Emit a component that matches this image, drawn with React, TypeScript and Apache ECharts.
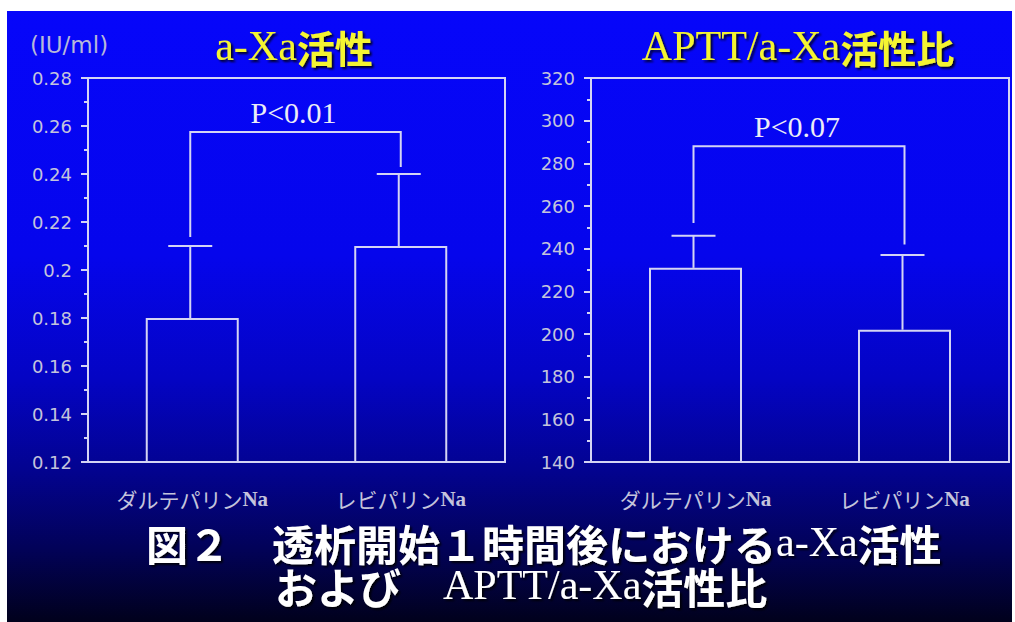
import React, { useEffect, useRef } from "react";
import * as echarts from "echarts";

const categories = ["ダルテパリンNa", "レビパリンNa"];
const axaMean = [0.18, 0.21];
const axaUpper = [0.21, 0.24];
const ratioMean = [231, 202];
const ratioUpper = [246, 237];
// bracket: [top, left leg end, right leg end]
const axaBracket = [0.2575, 0.2138, 0.2429];
const ratioBracket = [288, 252, 242];
const pLabels = ["P<0.01", "P<0.07"];
// axis ranges: [min, max, interval]
const axaRange = [0.12, 0.28, 0.02];
const ratioRange = [140, 320, 20];
const panelTitles = ["a-Xa活性", "APTT/a-Xa活性比"];
const unitLabel = "(IU/ml)";
const captionLines = ["図２　透析開始１時間後におけるa-Xa活性", "および　APTT/a-Xa活性比"];

const LINE = "#d4d4f4";
const LABEL = "#c4c4dc";
const CJK = "'Noto Sans CJK JP'";

function splitRich(s: string, latinStyle: string, cjkStyle: string) {
  const parts: string[] = [];
  let cur = "";
  let curLatin: boolean | null = null;
  for (const ch of s) {
    const latin = /[A-Za-z0-9\-\/<>.]/.test(ch);
    if (curLatin === null || latin === curLatin) {
      cur += ch;
    } else {
      parts.push(`{${curLatin ? latinStyle : cjkStyle}|${cur}}`);
      cur = ch;
    }
    curLatin = latin;
  }
  if (cur) parts.push(`{${curLatin ? latinStyle : cjkStyle}|${cur}}`);
  return parts.join("");
}

function errorSeries(xi: number, mean: number[], upper: number[]) {
  return {
    type: "custom",
    xAxisIndex: xi,
    yAxisIndex: xi,
    z: 5,
    data: categories.map((_, i) => [i, mean[i], upper[i]]),
    renderItem: (_p: any, api: any) => {
      const c = api.coord([api.value(0), api.value(1)]);
      const t = api.coord([api.value(0), api.value(2)]);
      const hw = 22;
      const x = c[0] - 2;
      return {
        type: "group",
        children: [
          { type: "line", shape: { x1: x, y1: c[1], x2: x, y2: t[1] }, style: { stroke: LINE, lineWidth: 2 } },
          { type: "line", shape: { x1: x - hw, y1: t[1], x2: x + hw, y2: t[1] }, style: { stroke: LINE, lineWidth: 2 } },
        ],
      };
    },
  };
}

function bracketSeries(xi: number, b: number[], label: string) {
  return {
    type: "custom",
    xAxisIndex: xi,
    yAxisIndex: xi,
    z: 5,
    data: [[0, b[0], b[1], b[2]]],
    renderItem: (_p: any, api: any) => {
      const lt = api.coord([0, api.value(1)]);
      const ll = api.coord([0, api.value(2)]);
      const rt = api.coord([1, api.value(1)]);
      const rl = api.coord([1, api.value(3)]);
      return {
        type: "group",
        children: [
          {
            type: "polyline",
            shape: { points: [[ll[0] - 2, ll[1]], [lt[0] - 2, lt[1]], [rt[0], rt[1]], [rl[0], rl[1]]] },
            style: { stroke: LINE, lineWidth: 2, fill: "none" },
          },
          {
            type: "text",
            x: (lt[0] + rt[0]) / 2 - 3,
            y: lt[1] - 20,
            style: {
              text: label,
              fill: "#ececf6",
              fontSize: 30,
              fontFamily: "'Liberation Serif'",
              align: "center",
              verticalAlign: "middle",
            },
          },
        ],
      };
    },
  };
}

function barSeries(xi: number, vals: number[]) {
  return {
    type: "bar",
    xAxisIndex: xi,
    yAxisIndex: xi,
    barWidth: 93,
    z: 3,
    data: vals,
    itemStyle: { color: "rgba(0,0,0,0)", borderColor: LINE, borderWidth: 2 },
  };
}

function yAxis(gi: number, r: number[]) {
  return {
    type: "value",
    gridIndex: gi,
    min: r[0],
    max: r[1],
    interval: r[2],
    axisLine: { show: true, lineStyle: { color: LINE, width: 2 } },
    axisTick: { show: true, length: 7, lineStyle: { color: LINE, width: 2 } },
    minorTick: { show: true, splitNumber: 2, length: 4, lineStyle: { color: LINE, width: 2 } },
    splitLine: { show: false },
    axisLabel: { color: LABEL, fontSize: 18, fontFamily: "'DejaVu Sans'", margin: 16 },
  };
}

function xAxis(gi: number) {
  return {
    type: "category",
    gridIndex: gi,
    data: categories,
    axisLine: { show: true, lineStyle: { color: LINE, width: 2 } },
    axisTick: { show: false },
    axisLabel: {
      margin: 26,
      formatter: (v: string) => `{k|${v.replace("Na", "")}}{n|Na}`,
      rich: {
        k: { fontFamily: CJK, fontSize: 21, color: LABEL },
        n: { fontFamily: "'Liberation Serif'", fontWeight: "bold", fontSize: 21, color: LABEL },
      },
    },
  };
}

const shadow = {
  textShadowColor: "rgba(0,0,0,0.85)",
  textShadowOffsetX: 2,
  textShadowOffsetY: 2,
  textShadowBlur: 2,
};

export default function App() {
  const ref = useRef<HTMLDivElement>(null);
  useEffect(() => {
    if (!ref.current) return;
    const chart = echarts.init(ref.current, null, { renderer: "svg" });
    const titleRich = {
      l: { fontFamily: "'Liberation Serif'", fontSize: 42, fill: "#f4f430", ...shadow },
      c: { fontFamily: CJK, fontWeight: "bold", fontSize: 38, fill: "#f4f430", ...shadow },
    };
    const capRich = {
      l: { fontFamily: "'Liberation Serif'", fontSize: 42, lineHeight: 43, fill: "#ffffff", ...shadow },
      c: { fontFamily: CJK, fontWeight: "bold", fontSize: 42, lineHeight: 43, fill: "#ffffff", ...shadow },
      pad: { width: 129, lineHeight: 43, fontSize: 42 },
    };
    const caption =
      splitRich(captionLines[0], "l", "c") + "\n{pad| }" + splitRich(captionLines[1], "l", "c");
    chart.setOption({
      animation: false,
      backgroundColor: "#ffffff",
      grid: [
        { left: 88, top: 78, width: 417, height: 384, show: true, borderColor: LINE, borderWidth: 2, backgroundColor: "transparent" },
        { left: 591, top: 78, width: 418, height: 384, show: true, borderColor: LINE, borderWidth: 2, backgroundColor: "transparent" },
      ],
      xAxis: [xAxis(0), xAxis(1)],
      yAxis: [yAxis(0, axaRange), yAxis(1, ratioRange)],
      graphic: [
        {
          type: "rect",
          z: -10,
          shape: { x: 7, y: 11, width: 1005, height: 611 },
          style: {
            fill: new echarts.graphic.LinearGradient(0, 0, 0, 1, [
              { offset: 0, color: "#0606fa" },
              { offset: 0.4, color: "#0505ec" },
              { offset: 0.6, color: "#0404c4" },
              { offset: 0.75, color: "#030390" },
              { offset: 0.88, color: "#020258" },
              { offset: 1, color: "#01011c" },
            ]),
          },
        },
        {
          type: "text",
          x: 30,
          y: 45,
          style: { text: unitLabel, fill: "#b8b8d8", fontSize: 23, fontFamily: "'DejaVu Sans'", verticalAlign: "middle" },
        },
        {
          type: "text",
          x: 294,
          y: 46,
          style: { text: splitRich(panelTitles[0], "l", "c"), rich: titleRich, align: "center", verticalAlign: "middle" },
        },
        {
          type: "text",
          x: 798,
          y: 46,
          style: { text: splitRich(panelTitles[1], "l", "c"), rich: titleRich, align: "center", verticalAlign: "middle" },
        },
        {
          type: "text",
          x: 146,
          y: 563.5,
          style: { text: caption, rich: capRich, align: "left", verticalAlign: "middle" },
        },
      ],
      series: [
        barSeries(0, axaMean),
        barSeries(1, ratioMean),
        errorSeries(0, axaMean, axaUpper),
        errorSeries(1, ratioMean, ratioUpper),
        bracketSeries(0, axaBracket, pLabels[0]),
        bracketSeries(1, ratioBracket, pLabels[1]),
      ],
    });
    return () => chart.dispose();
  }, []);
  return (
    <div
      ref={ref}
      style={{ position: "fixed", left: 0, top: 0, width: 1015, height: 622 }}
    />
  );
}
